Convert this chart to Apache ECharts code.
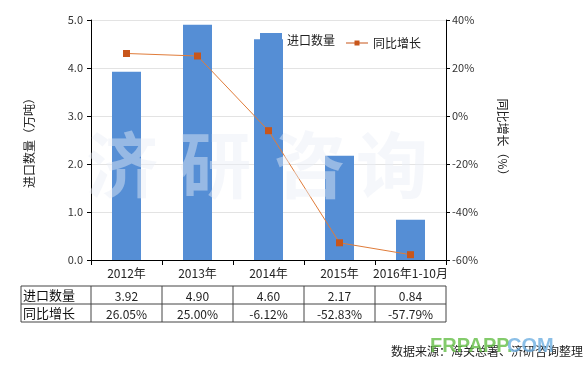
<!DOCTYPE html>
<html><head><meta charset="utf-8">
<script src="https://cdn.jsdelivr.net/npm/echarts@6/dist/echarts.min.js"></script>
<style>html,body{margin:0;padding:0;background:#fff}#c{width:587px;height:370px}</style>
</head><body><div id="c"></div>
<script>
var categories = ['2012年','2013年','2014年','2015年','2016年1-10月'];
var importQty = [3.92, 4.90, 4.60, 2.17, 0.84];
var yoyGrowth = [26.05, 25.00, -6.12, -52.83, -57.79];
var leftTicks = {min:0, max:5, interval:1};
var rightTicks = {min:-60, max:40, interval:20};
var seriesNames = ['进口数量','同比增长'];

var FONT = '"Microsoft YaHei","Noto Sans CJK SC",sans-serif';
var chart = echarts.init(document.getElementById('c'), null, {renderer:'canvas'});
var lineIcon = 'path://M0,2 L8.5,2 L8.5,0 L13.5,0 L13.5,2 L22,2 L22,3 L13.5,3 L13.5,5 L8.5,5 L8.5,3 L0,3 Z';
var option = {
  backgroundColor:'#fff',
  animation:false,
  textStyle:{fontFamily:FONT},
  grid:{left:91, right:141, top:20, bottom:110, containLabel:false},
  legend:[
    {left:260, top:33, itemWidth:22, itemHeight:14, padding:0,
     textStyle:{fontSize:12, color:'#222', fontFamily:FONT},
     data:[{name:seriesNames[0], icon:'rect'}]},
    {left:346, top:33, itemWidth:22, itemHeight:5, padding:[4,0,0,0],
     textStyle:{fontSize:12, color:'#222', fontFamily:FONT, padding:[-3,0,0,0]},
     data:[{name:seriesNames[1], icon:lineIcon}]}
  ],
  xAxis:{type:'category', data:categories,
    axisLine:{lineStyle:{color:'#000'}},
    axisTick:{show:true, length:5, lineStyle:{color:'#000'}},
    axisLabel:{color:'#222', fontSize:12, margin:7, interval:0, fontFamily:FONT}},
  yAxis:[
    {type:'value', min:leftTicks.min, max:leftTicks.max, interval:leftTicks.interval,
     name:'进口数量（万吨）', nameLocation:'middle', nameGap:56, nameRotate:90,
     nameTextStyle:{color:'#222', fontSize:12, fontFamily:FONT},
     axisLine:{show:true, lineStyle:{color:'#000'}},
     axisTick:{show:true, length:4, lineStyle:{color:'#000'}},
     axisLabel:{color:'#333', fontSize:11, margin:8, formatter:function(v){return v.toFixed(1);}},
     splitLine:{lineStyle:{color:'#e3e3e3'}}},
    {type:'value', min:rightTicks.min, max:rightTicks.max, interval:rightTicks.interval,
     name:'同比增长（%）', nameLocation:'middle', nameGap:51, nameRotate:-90,
     nameTextStyle:{color:'#222', fontSize:12, fontFamily:FONT},
     axisLine:{show:true, lineStyle:{color:'#000'}},
     axisTick:{show:true, length:4, lineStyle:{color:'#000'}},
     axisLabel:{color:'#333', fontSize:11, margin:6, formatter:'{value}%'},
     splitLine:{show:false}}
  ],
  series:[
    {name:seriesNames[0], type:'bar', data:importQty, barWidth:29,
     itemStyle:{color:'#558ED5'}},
    {name:seriesNames[1], type:'line', yAxisIndex:1, data:yoyGrowth,
     symbol:'rect', symbolSize:7, showSymbol:true,
     lineStyle:{color:'#E07C3A', width:1},
     itemStyle:{color:'#C8561B'}, z:5}
  ]
};
chart.setOption(option);

// table and decorations
var g = [];
var colX = categories.map(function(c){ return chart.convertToPixel({xAxisIndex:0}, c); });
var step = colX.length > 1 ? colX[1]-colX[0] : 71;
var left0 = 21, firstB = colX[0]-step/2, lastB = colX[colX.length-1]+step/2;
var rowY = [286, 304, 322];
var lc = '#444';
rowY.forEach(function(y){
  g.push({type:'line', shape:{x1:left0, y1:y, x2:lastB, y2:y}, style:{stroke:lc, lineWidth:1}});
});
var vx = [left0, firstB];
colX.forEach(function(x){ vx.push(x+step/2); });
vx.forEach(function(x){
  g.push({type:'line', shape:{x1:x, y1:rowY[0], x2:x, y2:rowY[2]}, style:{stroke:lc, lineWidth:1}});
});
var rowsText = [importQty.map(function(v){return v.toFixed(2);}),
                yoyGrowth.map(function(v){return v.toFixed(2)+'%';})];
seriesNames.forEach(function(n, r){
  var cy = (rowY[r]+rowY[r+1])/2;
  g.push({type:'text', style:{text:n, x:left0+2, y:cy, align:'left', verticalAlign:'middle',
    font:'13px '+FONT, fill:'#111'}});
  rowsText[r].forEach(function(t, i){
    g.push({type:'text', style:{text:t, x:colX[i], y:cy+1, align:'center', verticalAlign:'middle',
      font:'12px '+FONT, fill:'#222'}});
  });
});
var wm = ['济','研','咨','询'], wmX = [122, 215, 310, 392];
wm.forEach(function(ch, i){
  g.push({type:'text', z:10, style:{text:ch, x:wmX[i], y:165, align:'center', verticalAlign:'middle',
    font:'bold 72px "Noto Sans CJK SC",sans-serif', fill:'rgba(232,238,247,0.45)'}});
});
g.push({type:'text', style:{text:'数据来源：海关总署、济研咨询整理', x:583, y:351, align:'right', verticalAlign:'middle',
  font:'12px "Noto Sans CJK SC",sans-serif', fill:'#222'}});
g.push({type:'text', z:11, style:{text:'FRPAPP.', x:430, y:346, align:'left', verticalAlign:'middle',
  font:'bold 20px "Liberation Sans",Arial,sans-serif', fill:'rgba(100,190,70,0.8)'}});
g.push({type:'text', z:11, style:{text:'COM', x:507, y:346, align:'left', verticalAlign:'middle',
  font:'bold 20px "Liberation Sans",Arial,sans-serif', fill:'rgba(110,175,225,0.8)'}});
chart.setOption({graphic:g});
</script></body></html>
